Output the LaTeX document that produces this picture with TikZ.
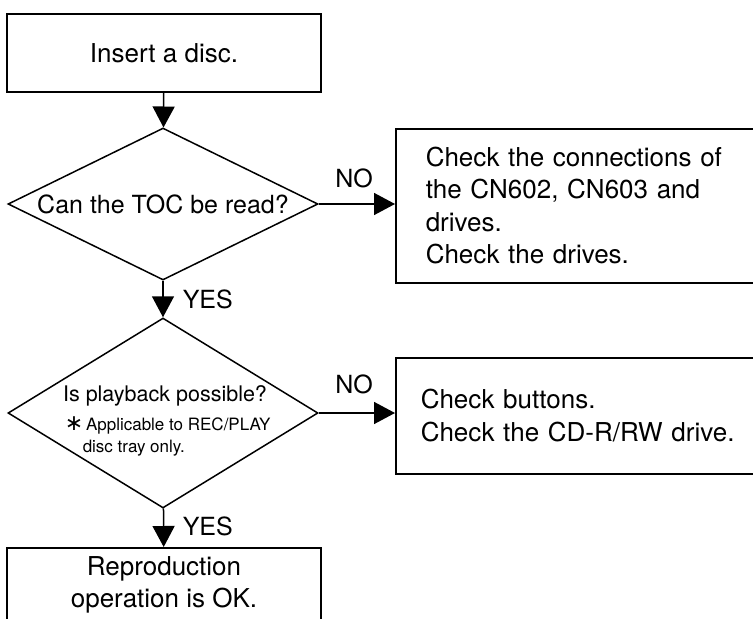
\documentclass[tikz,border=0pt]{standalone}
\usepackage{fontspec}
\setmainfont{TeX Gyre Heros}
\newfontfamily\symfont{DejaVu Sans}
\usetikzlibrary{shapes.geometric,arrows.meta}

\begin{document}
\begin{tikzpicture}[x=1pt,y=-1pt,
  line width=1.5pt,
  flowbox/.style={draw, rectangle, inner sep=0pt},
  decision/.style={draw, diamond, inner sep=0pt, minimum width=310pt},
  flow/.style={-{Triangle[length=21pt,width=22pt]}},
  body/.style={font=\fontsize{26}{32.5}\selectfont},
  lbl/.style={font=\fontsize{25}{30}\selectfont, inner sep=0pt},
  note/.style={font=\fontsize{17}{22}\selectfont, inner sep=0pt}
]
\useasboundingbox (0,0) rectangle (753,619);
\clip (0,0) rectangle (753,619);

% main column
\node[flowbox, body, minimum width=314pt, minimum height=78pt] (b1) at (164,53) {Insert a disc.};
\node[decision, aspect=2.04, minimum height=152pt, font=\fontsize{25}{30}\selectfont] (d1) at (163,204) {Can the TOC be read?};
\node[decision, aspect=1.63, minimum height=190pt] (d2) at (163,413) {};
\node[flowbox, minimum width=314pt, minimum height=120pt, anchor=north] (b4) at (164,547) {};

% text of the second decision
\node[font=\fontsize{21.5}{26}\selectfont, inner sep=0pt] (d2t) at (165,396) {Is playback possible?};
\node[note, anchor=base west] (d2n1) at (64,430) {{\symfont\fontsize{22}{22}\selectfont ∗}\,Applicable to REC/PLAY};
\node[note, anchor=base west] (d2n2) at (82,452) {disc tray only.};

\node[body, align=center, inner sep=0pt] (b4t) at (164,585) {Reproduction\\operation is OK.};

% side boxes
\node[flowbox, body, anchor=north west, align=left, text width=330pt,
      inner xsep=30pt, minimum height=154pt] (b2) at (395,128)
  {Check the connections of\\the CN602, CN603 and\\drives.\\Check the drives.};
\node[flowbox, body, anchor=north west, align=left, text width=340pt,
      inner xsep=25pt, minimum height=116pt] (b3) at (395,357)
  {Check buttons.\\Check the CD-R/RW drive.};

% connectors
\draw[flow] (b1) -- (d1);
\draw[flow] (d1) -- (d2);
\draw[flow] (d2) -- (b4);
\draw[flow] (d1.east) -- (b2.west |- d1.east);
\draw[flow] (d2.east) -- (b3.west |- d2.east);

% branch labels
\node[lbl] (no1) at (354,178) {NO};
\node[lbl] (no2) at (354,384) {NO};
\node[lbl, anchor=west] (yes1) at (182,299) {YES};
\node[lbl, anchor=west] (yes2) at (182,526) {YES};
\end{tikzpicture}
\end{document}
